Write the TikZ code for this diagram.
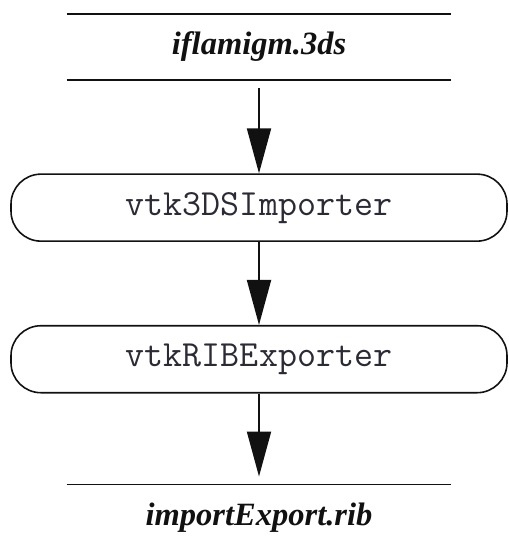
\documentclass[tikz,border=0pt]{standalone}
\usepackage{fontspec}
\setmainfont{Liberation Serif}
\usepackage{tikz}
\usetikzlibrary{arrows.meta,positioning}
\usepackage{xcolor}
\definecolor{vtkink}{HTML}{111111}
\definecolor{vtkcode}{HTML}{2B2B35}
\tikzset{
  datafile/.style={
    rectangle,
    inner sep=0pt,
    minimum width=7.68cm,
    minimum height=1.32cm,
    text=vtkink,
    font=\fontsize{18.5}{22}\selectfont\bfseries\itshape
  },
  fileline/.style={line width=1.1pt, draw=vtkink},
  filterbox/.style={
    rectangle,
    rounded corners=0.6cm,
    draw=vtkink,
    line width=0.9pt,
    inner sep=0pt,
    minimum width=9.92cm,
    minimum height=1.34cm,
    text=vtkcode,
    font=\fontsize{21}{24}\selectfont\ttfamily
  },
  pipearrow/.style={-{Triangle[length=0.9cm, width=0.48cm]}, line width=1.1pt, draw=vtkink}
}

\begin{document}
\begin{tikzpicture}
\useasboundingbox (0,0) rectangle (10.16,-10.92);
\node[datafile] (a) at (5.18,-0.94) {iflamigm.3ds};
\node[filterbox, below=1.86cm of a] (b) {vtk3DSImporter};
\node[filterbox, below=1.66cm of b] (c) {vtkRIBExporter};
\node[datafile, below=1.82cm of c] (d) {importExport.rib};
\draw[fileline] (a.north west) -- (a.north east);
\draw[fileline] (a.south west) -- (a.south east);
\draw[fileline] (d.north west) -- (d.north east);
\draw[pipearrow, shorten <=0.16cm] (a) -- (b);
\draw[pipearrow] (b) -- (c);
\draw[pipearrow, shorten >=0.16cm] (c) -- (d);
\end{tikzpicture}
\end{document}
